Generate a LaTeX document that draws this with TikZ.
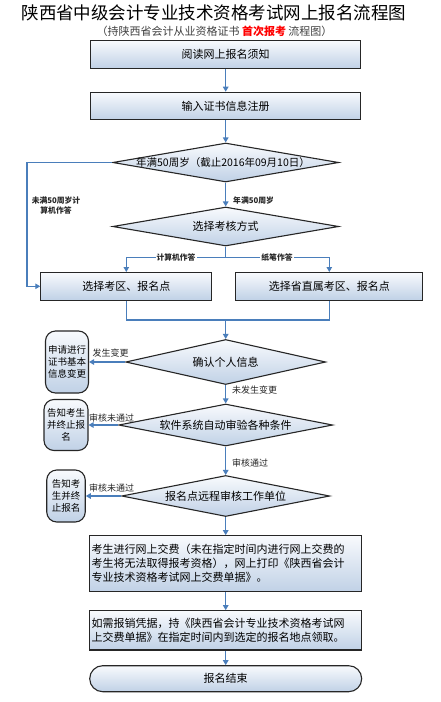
\documentclass[tikz,border=0pt]{standalone}
\usepackage{fontspec}
\setmainfont{Noto Sans CJK SC}
\usetikzlibrary{shapes.geometric,arrows.meta}
\definecolor{arrowblue}{RGB}{74,126,187}
\definecolor{boxtop}{RGB}{248,250,253}
\definecolor{boxbot}{RGB}{192,209,230}
\definecolor{edge}{RGB}{38,38,38}
\begin{document}
\begin{tikzpicture}[x=1pt,y=-1pt,
  box/.style={draw=edge,line width=1.1pt,top color=boxtop,bottom color=boxbot,inner sep=0pt,font=\fontsize{11}{14}\selectfont},
  dia/.style={diamond,draw=edge,line width=1.1pt,top color=boxtop,bottom color=boxbot,inner sep=0pt},
  diatext/.style={inner sep=0pt,font=\fontsize{11}{13}\selectfont},
  side/.style={box,rounded corners=10pt,font=\fontsize{9.5}{12}\selectfont,align=center},
  flow/.style={draw=arrowblue,line width=1.2pt},
  arr/.style={flow,-{Triangle[width=5.5pt,length=5pt]}},
  lab/.style={font=\fontsize{9}{10}\selectfont,text=black!85,inner sep=1pt},
  labs/.style={font=\fontsize{7.8}{10}\selectfont\bfseries,text=black!85,inner sep=1pt}]
\fill[white] (0,0) rectangle (440,702);
\useasboundingbox (0,0) rectangle (440,702);

\node[font=\fontsize{17.5}{20}\selectfont] (title) at (214,13) {陕西省中级会计专业技术资格考试网上报名流程图};
\node[font=\fontsize{11}{12}\selectfont,text=black!75] (sub) at (214.5,31) {（持陕西省会计从业资格证书 {\color{red}\bfseries 首次报考} 流程图）};

\node[box,minimum width=270pt,minimum height=27.5pt] (b1) at (225.7,54.5) {阅读网上报名须知};
\node[box,minimum width=270pt,minimum height=27.5pt] (b2) at (225.7,106) {输入证书信息注册};
\node[dia,minimum width=226pt,minimum height=39pt] (d1) at (225.7,162.5) {};
\node[diatext,font=\fontsize{10.5}{12}\selectfont] (t1) at (223,162.5) {年满50周岁（截止2016年09月10日）};
\node[dia,minimum width=226pt,minimum height=39pt] (d2) at (225.7,226.5) {};
\node[diatext] (t2) at (d2) {选择考核方式};
\node[box,minimum width=171pt,minimum height=27.5pt] (b3) at (126.3,286.3) {选择考区、报名点};
\node[box,minimum width=187pt,minimum height=27.5pt] (b4) at (329.3,286.3) {选择省直属考区、报名点};
\node[dia,minimum width=200pt,minimum height=45pt] (d3) at (225.7,362) {};
\node[diatext] (t3) at (d3) {确认个人信息};
\node[dia,minimum width=214pt,minimum height=42pt] (d4) at (225.7,425) {};
\node[diatext] (t4) at (d4) {软件系统自动审验各种条件};
\node[dia,minimum width=208pt,minimum height=41pt] (d5) at (225.7,496) {};
\node[diatext] (t5) at (d5) {报名点远程审核工作单位};
\node[side,minimum width=43pt,minimum height=62pt] (s1) at (67,362) {申请进行\\证书基本\\信息变更};
\node[side,minimum width=44pt,minimum height=51pt] (s2) at (66,425) {告知考生\\并终止报\\名};
\node[side,minimum width=38.5pt,minimum height=52pt] (s3) at (66,496) {告知考\\生并终\\止报名};
\node[box,minimum width=272pt,minimum height=56pt,text width=268pt,align=left] (b5) at (225.7,563.7) {考生进行网上交费（未在指定时间内进行网上交费的\\考生将无法取得报考资格），网上打印《陕西省会计\\专业技术资格考试网上交费单据》。};
\node[box,minimum width=272pt,minimum height=39.3pt,text width=268pt,align=left] (b6) at (225.7,630.3) {如需报销凭据，持《陕西省会计专业技术资格考试网\\上交费单据》在指定时间内到选定的报名地点领取。};
\node[box,rounded corners=13pt,minimum width=272pt,minimum height=26pt] (e) at (225.7,678.7) {报名结束};

\coordinate (lc) at (27,162.5);
\coordinate (sp) at (225.7,257.7);
\coordinate (mg) at (225.7,320);

\draw[arr] (b1) -- (b2);
\draw[arr] (b2) -- (d1);
\draw[arr] (d1) -- (d2);
\draw[arr] (d1.west) -- (lc) |- (b3.west);
\draw[flow] (d2.south) -- (sp);
\draw[arr] (sp) -| (b3.north);
\draw[arr] (sp) -| (b4.north);
\draw[flow] (b3.south) |- (mg);
\draw[flow] (b4.south) |- (mg);
\draw[arr] (mg) -- (d3.north);
\draw[arr] (d3.west) -- (s1.east);
\draw[arr] (d3) -- (d4);
\draw[arr] (d4.west) -- (s2.east);
\draw[arr] (d4) -- (d5);
\draw[arr] (d5.west) -- (s3.east);
\draw[arr] (d5) -- (b5);
\draw[arr] (b5) -- (b6);
\draw[arr] (b6) -- (e);

\node[labs,anchor=west] (l1) at (232,200.7) {年满50周岁};
\node[labs,align=center] (l2) at (56,206) {未满50周岁计\\算机作答};
\node[labs,fill=white] (l3) at (176,257.7) {计算机作答};
\node[labs,fill=white] (l4) at (277,257.7) {纸笔作答};
\node[lab] (l5) at (110.5,353) {发生变更};
\node[lab,anchor=west] (l6) at (231,390) {未发生变更};
\node[lab] (l7) at (111.5,417.7) {审核未通过};
\node[lab,anchor=west] (l8) at (231,463) {审核通过};
\node[lab] (l9) at (111.5,488) {审核未通过};
\end{tikzpicture}
\end{document}
